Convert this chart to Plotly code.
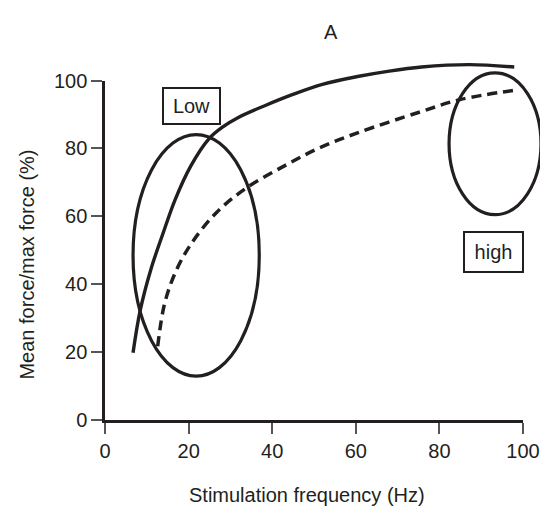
import plotly.graph_objects as go

# ---- data ----
x_ticks = [0, 20, 40, 60, 80, 100]
y_ticks = [0, 20, 40, 60, 80, 100]

solid_x = [6.7, 8.4, 11.0, 13.8, 16.8, 20.5, 24.9, 28.0, 32.0, 38.2, 45.1, 52.0, 60.4, 68.0, 75.7, 87.2, 97.9]
solid_y = [19.8, 32.2, 44.5, 54.7, 65.0, 74.8, 82.9, 86.2, 89.2, 92.6, 96.0, 98.9, 101.2, 102.8, 104.0, 104.7, 104.0]

dashed_x = [12.6, 14.2, 16.8, 20.6, 26.8, 34.0, 42.8, 51.0, 60.4, 75.7, 84.9, 98.3]
dashed_y = [21.7, 34.0, 43.4, 51.9, 61.3, 68.5, 74.8, 80.0, 84.6, 90.9, 94.4, 97.2]

# ellipses: centre x, centre y, radius x, radius y (data units)
low_ellipse = [21.8, 48.5, 15.1, 35.6]
high_ellipse = [93.3, 81.4, 11.0, 20.9]

W, H = 557, 518
INK = "#231f20"
FONT = "Liberation Sans, Arial, Helvetica, sans-serif"
FS = 20

# main axes domain (pixels -> fractions)
xd = [103.3 / W, 539.3 / W]
yd = [(H - 427.0) / H, (H - 72.7) / H]
xr = [0, 100]
yr = [0, 100]

def full_range(dom, rng):
    span = rng[1] - rng[0]
    k = span / (dom[1] - dom[0])
    return [rng[0] - dom[0] * k, rng[1] + (1 - dom[1]) * k]

fig = go.Figure()

# invisible trace to keep the main axes alive
fig.add_trace(go.Scatter(x=[0, 100], y=[0, 100], mode="markers", marker=dict(opacity=0),
                         hoverinfo="skip", showlegend=False))
fig.add_trace(go.Scatter(x=solid_x, y=solid_y, mode="lines", xaxis="x2", yaxis="y2",
                         line=dict(color=INK, width=3.4, shape="spline", smoothing=1.0),
                         hoverinfo="skip", showlegend=False))
fig.add_trace(go.Scatter(x=dashed_x, y=dashed_y, mode="lines", xaxis="x2", yaxis="y2",
                         line=dict(color=INK, width=3.5, dash="10px,6px", shape="spline", smoothing=1.0),
                         hoverinfo="skip", showlegend=False))

for cx, cy, rx, ry in (low_ellipse, high_ellipse):
    fig.add_shape(type="circle", xref="x2", yref="y2",
                  x0=cx - rx, x1=cx + rx, y0=cy - ry, y1=cy + ry,
                  line=dict(color=INK, width=3.2))

axis_common = dict(showgrid=False, zeroline=False, showline=True, linecolor=INK, linewidth=2.5,
                   ticks="outside", ticklen=11, tickwidth=1.5, tickcolor="#555555",
                   tickfont=dict(family=FONT, size=FS, color=INK), fixedrange=True)

fig.update_layout(
    width=W, height=H, margin=dict(l=0, r=0, t=0, b=0),
    paper_bgcolor="white", plot_bgcolor="rgba(0,0,0,0)",
    xaxis=dict(domain=xd, range=xr, tickvals=x_ticks, anchor="y", **axis_common),
    yaxis=dict(domain=yd, range=yr, tickvals=y_ticks, anchor="x", **axis_common),
    xaxis2=dict(domain=[0, 1], range=full_range(xd, xr), visible=False, anchor="y2", fixedrange=True),
    yaxis2=dict(domain=[0, 1], range=full_range(yd, yr), visible=False, anchor="x2", fixedrange=True),
    showlegend=False,
)

def ann(text, x, y, **kw):
    fig.add_annotation(text=text, x=x / W, y=1 - y / H, xref="paper", yref="paper",
                       xanchor="center", yanchor="middle", showarrow=False,
                       font=dict(family=FONT, size=FS, color=INK), **kw)

ann("A", 339, 22)
ann("Stimulation frequency (Hz)", 314, 505)
ann("Mean force/max force (%)", 21.7, 265, textangle=-90)
ann("Low", 193, 99, bordercolor=INK, borderwidth=2, borderpad=0, width=55, height=34)
ann("high", 508.5, 252, bordercolor=INK, borderwidth=2, borderpad=0, width=57, height=38)

fig.write_html("out.html")
